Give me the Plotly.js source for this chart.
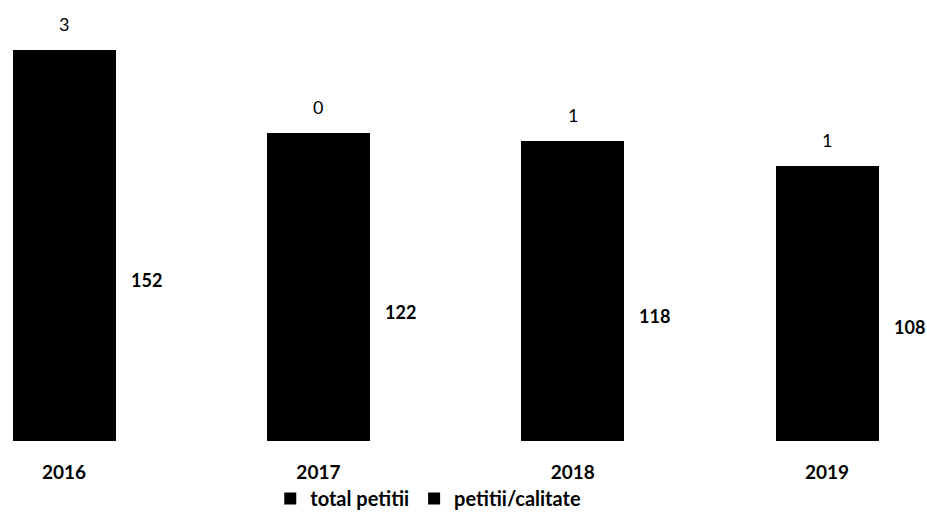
<!DOCTYPE html>
<html>
<head>
<meta charset="utf-8">
<script src="https://cdn.plot.ly/plotly-3.0.1.min.js"></script>
<style>html,body{margin:0;padding:0;background:#fff;}#chart{width:927px;height:514px;}</style>
</head>
<body>
<div id="chart"></div>
<script>
var years = ['2016', '2017', '2018', '2019'];
var totalPetitii = [152, 122, 118, 108];
var petitiiCalitate = [3, 0, 1, 1];
var seriesNames = ['total petitii', 'petitii/calitate'];

var FONT = 'Lato, "Open Sans", "Liberation Sans", sans-serif';
var stackTop = totalPetitii.map(function (v, i) { return v + petitiiCalitate[i]; });
var yMax = Math.max.apply(null, stackTop);

var traces = [
  { type: 'bar', name: seriesNames[0], x: years, y: totalPetitii,
    marker: { color: '#000000' }, hoverinfo: 'x+y' },
  { type: 'bar', name: seriesNames[1], x: years, y: petitiiCalitate,
    marker: { color: '#000000' }, hoverinfo: 'x+y' }
];

var annotations = [];
years.forEach(function (yr, i) {
  annotations.push({
    x: i, y: totalPetitii[i] * 0.42, xref: 'x', yref: 'y',
    text: '<b>' + totalPetitii[i] + '</b>', showarrow: false,
    xshift: 82, font: { family: FONT, size: 18, color: '#000' }
  });
  annotations.push({
    x: i, y: stackTop[i], xref: 'x', yref: 'y',
    text: String(petitiiCalitate[i]), showarrow: false,
    yanchor: 'bottom', yshift: 13, font: { family: FONT, size: 18, color: '#000' }
  });
});

var layout = {
  width: 927, height: 514,
  margin: { l: 0, r: 0, t: 50, b: 73 },
  paper_bgcolor: '#fff', plot_bgcolor: '#fff',
  barmode: 'stack', bargap: 0.595,
  showlegend: true,
  legend: {
    orientation: 'h', xref: 'container', yref: 'container',
    x: 0.462, xanchor: 'center', y: 0.03, yanchor: 'middle',
    bgcolor: 'rgba(0,0,0,0)',
    font: { family: FONT, size: 20, color: '#000', weight: 'bold' },
    traceorder: 'normal', itemclick: false, itemwidth: 30
  },
  xaxis: {
    type: 'category', range: [-0.252, 3.393], automargin: false,
    showline: false, showgrid: false, zeroline: false,
    ticks: '', ticklabelstandoff: 18,
    tickfont: { family: FONT, size: 19, color: '#000', weight: 'bold' }
  },
  yaxis: {
    range: [0, yMax], showticklabels: false, ticks: '', showline: false,
    showgrid: false, zeroline: false, automargin: false
  },
  annotations: annotations
};

Plotly.newPlot('chart', traces, layout, { displayModeBar: false, staticPlot: true });
</script>
</body>
</html>
